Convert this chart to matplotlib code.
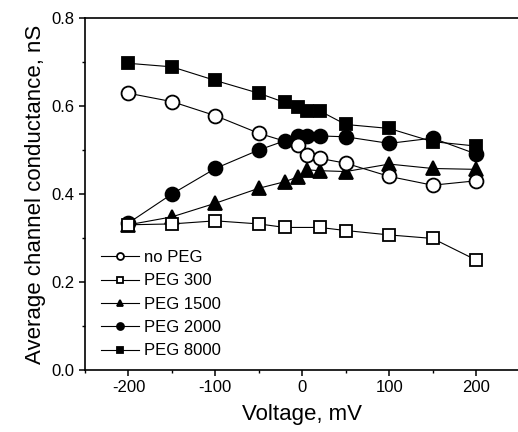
import matplotlib
matplotlib.use('Agg')
import matplotlib.pyplot as plt
import numpy as np

plt.rcParams['font.family'] = ['Liberation Sans', 'DejaVu Sans']
plt.rcParams['axes.unicode_minus'] = False

# voltage (mV) and conductance (nS)
v_noPEG = [-200, -150, -100, -50, -5, 5, 20, 50, 100, 150, 200]
g_noPEG = [0.629, 0.610, 0.578, 0.538, 0.511, 0.489, 0.481, 0.470, 0.440, 0.420, 0.430]

v_peg300 = [-200, -150, -100, -50, -20, 20, 50, 100, 150, 200]
g_peg300 = [0.330, 0.332, 0.339, 0.332, 0.324, 0.324, 0.317, 0.307, 0.299, 0.250]

v_full = [-200, -150, -100, -50, -20, -5, 5, 20, 50, 100, 150, 200]
g_peg1500 = [0.330, 0.348, 0.379, 0.413, 0.428, 0.439, 0.455, 0.453, 0.451, 0.468, 0.458, 0.456]
g_peg2000 = [0.334, 0.400, 0.458, 0.500, 0.521, 0.532, 0.532, 0.532, 0.530, 0.515, 0.527, 0.491]
g_peg8000 = [0.697, 0.689, 0.658, 0.629, 0.608, 0.598, 0.589, 0.589, 0.558, 0.549, 0.519, 0.509]

fig = plt.figure(figsize=(5.18, 4.32), dpi=100)
ax = fig.add_axes([85 / 518, 62 / 432, 434.5 / 518, 352 / 432])

common = dict(color='black', lw=0.8, mec='black', mew=1.3)
# drawn back to front so open markers sit on top
h8000, = ax.plot(v_full, g_peg8000, marker='s', ms=9, mfc='black', label='PEG 8000', **common)
h2000, = ax.plot(v_full, g_peg2000, marker='o', ms=10, mfc='black', label='PEG 2000', **common)
h1500, = ax.plot(v_full, g_peg1500, marker='^', ms=10, mfc='black', label='PEG 1500', **common)
h300, = ax.plot(v_peg300, g_peg300, marker='s', ms=9, mfc='white', label='PEG 300', **common)
h0, = ax.plot(v_noPEG, g_noPEG, marker='o', ms=10, mfc='white', label='no PEG', **common)

ax.set_xlim(-250, 250)
ax.set_ylim(0.0, 0.8)
ax.set_xticks([-200, -100, 0, 100, 200])
ax.set_xticks(np.arange(-250, 251, 50), minor=True)
ax.set_yticks([0.0, 0.2, 0.4, 0.6, 0.8])
ax.set_yticks(np.arange(0.0, 0.81, 0.1), minor=True)
ax.yaxis.set_major_formatter(matplotlib.ticker.FormatStrFormatter('%.1f'))
ax.tick_params(which='major', direction='out', length=4, width=1.1, labelsize=12, colors='black')
ax.tick_params(which='minor', direction='out', length=2.5, width=1.0)
for s in ax.spines.values():
    s.set_linewidth(1.2)

ax.set_xlabel('Voltage, mV', fontsize=16, labelpad=6)
ax.set_ylabel('Average channel conductance, nS', fontsize=16, labelpad=4)

leg = ax.legend(handles=[h0, h300, h1500, h2000, h8000], loc='upper left',
                bbox_to_anchor=(16 / 434.5, (370 - 250) / 352), frameon=False,
                fontsize=12, markerscale=0.5, handlelength=2.3, handletextpad=0.25,
                labelspacing=0.5, borderpad=0, borderaxespad=0)

fig.savefig('out.png', dpi=100)
